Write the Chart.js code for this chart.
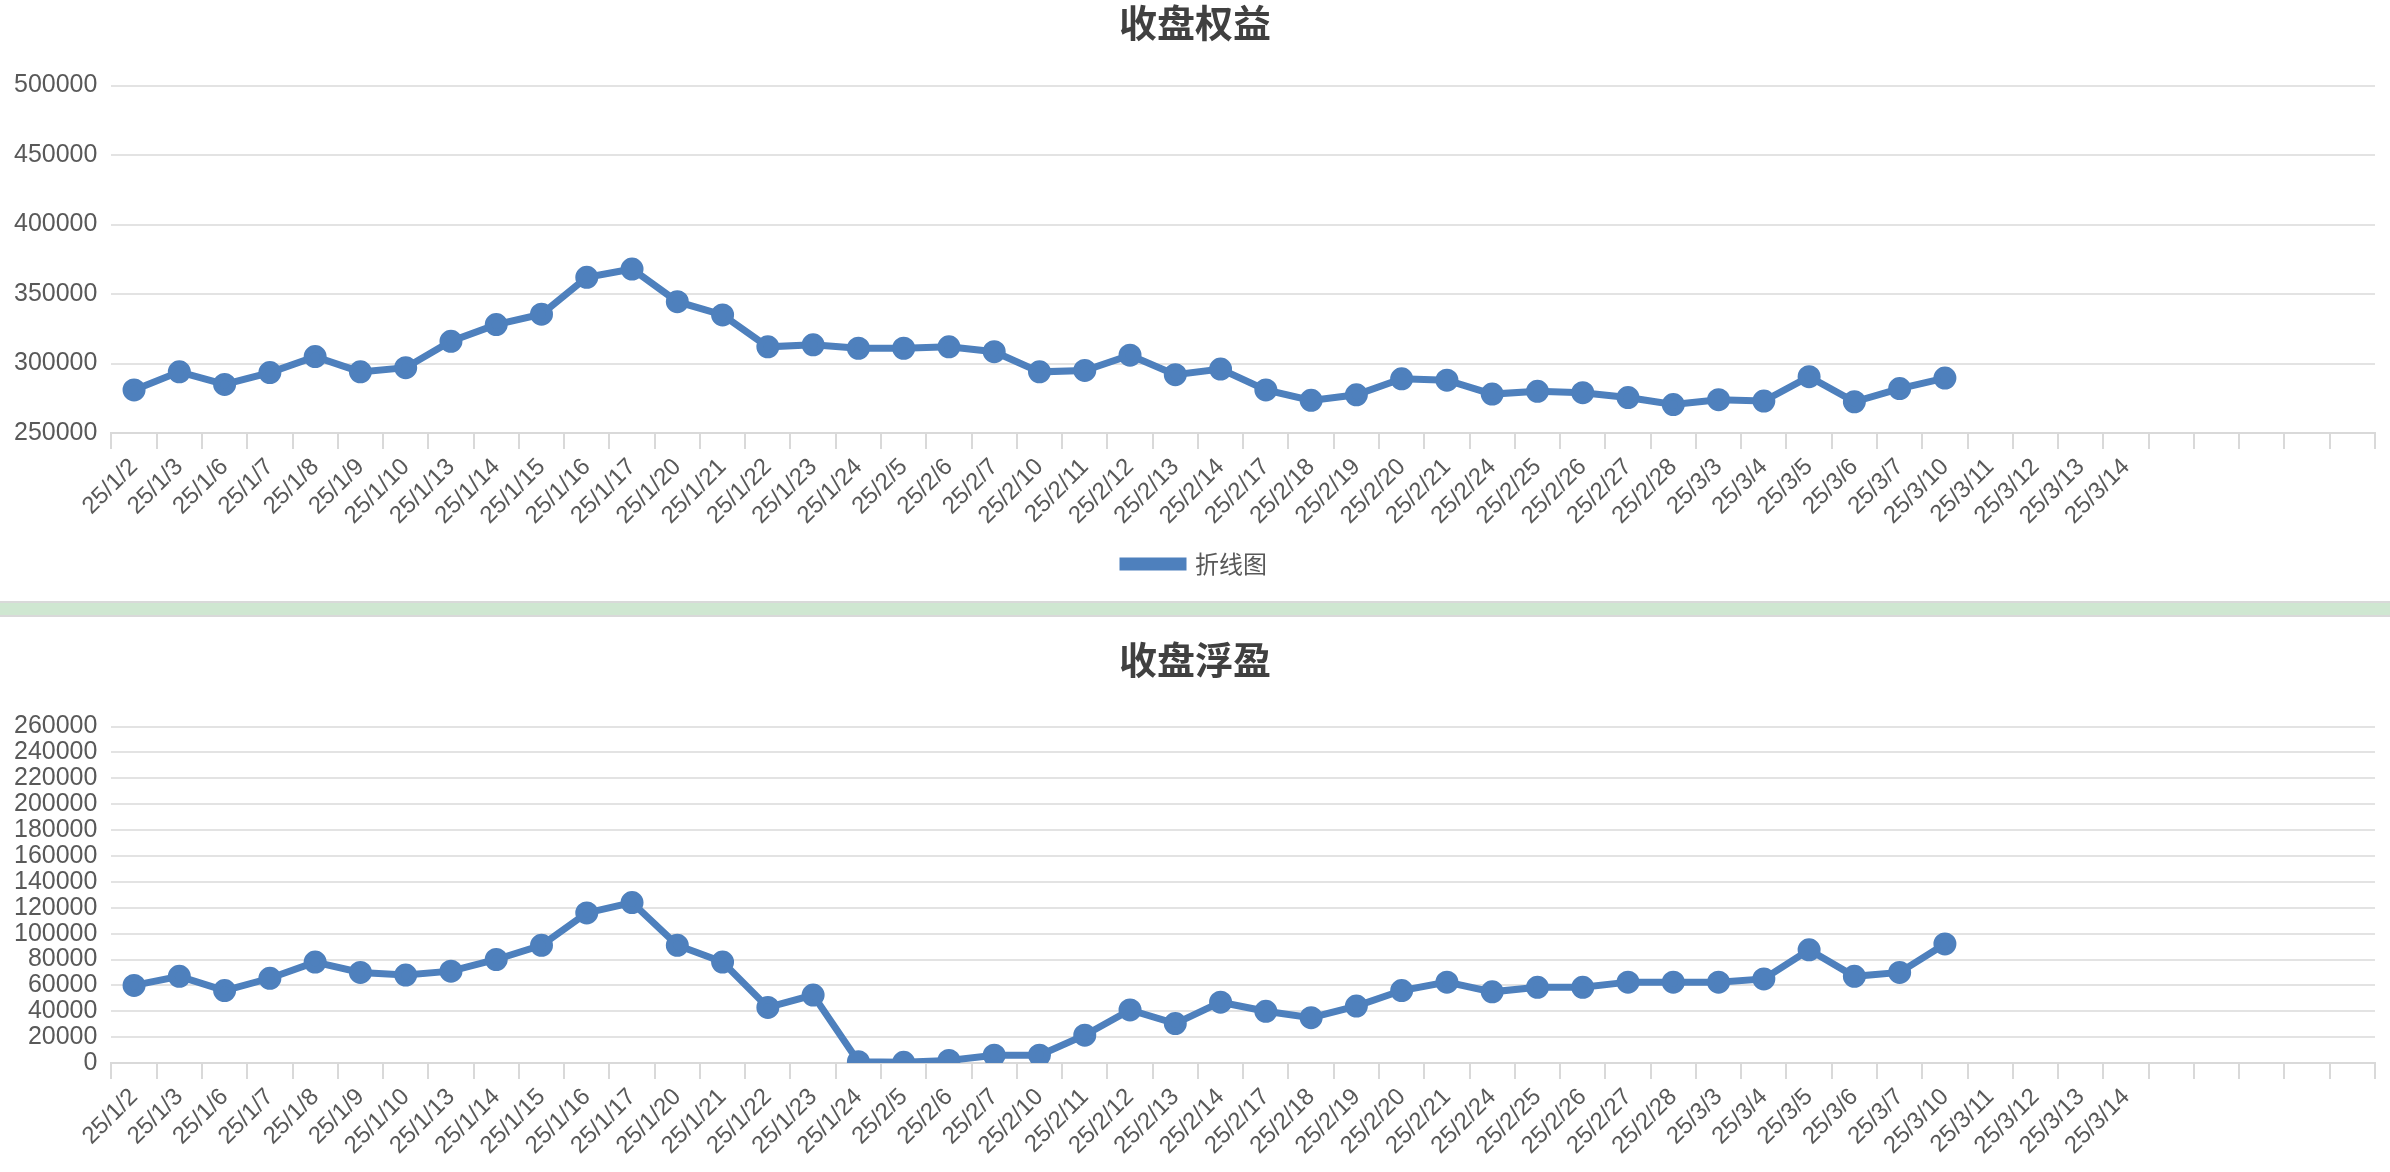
<!DOCTYPE html>
<html><head><meta charset="utf-8">
<script src="https://cdn.jsdelivr.net/npm/chart.js@4/dist/chart.umd.min.js"></script>
<style>
html,body{margin:0;padding:0;background:#fff;width:2390px;height:1172px;overflow:hidden}
#c1w{position:absolute;left:0;top:0;width:2390px;height:600px}
#band{position:absolute;left:0;top:601px;width:2390px;height:16px;background:#cfe7d1;border-top:2px solid #d9d9d9;border-bottom:2px solid #d9d9d9;box-sizing:border-box}
#c2w{position:absolute;left:0;top:617px;width:2390px;height:555px}
</style></head><body>
<div id="c1w"><canvas id="c1"></canvas></div>
<div id="band"></div>
<div id="c2w"><canvas id="c2"></canvas></div>
<script>
const categories=["25/1/2","25/1/3","25/1/6","25/1/7","25/1/8","25/1/9","25/1/10","25/1/13","25/1/14","25/1/15","25/1/16","25/1/17","25/1/20","25/1/21","25/1/22","25/1/23","25/1/24","25/2/5","25/2/6","25/2/7","25/2/10","25/2/11","25/2/12","25/2/13","25/2/14","25/2/17","25/2/18","25/2/19","25/2/20","25/2/21","25/2/24","25/2/25","25/2/26","25/2/27","25/2/28","25/3/3","25/3/4","25/3/5","25/3/6","25/3/7","25/3/10","25/3/11","25/3/12","25/3/13","25/3/14","","","","",""];
const equity=[281000,294000,285000,293500,305000,294000,297000,316000,328000,335500,362000,368000,344500,335000,312000,313500,311000,311000,312000,308500,294000,295000,306000,292000,296000,281000,273500,277500,289000,288000,278000,280000,279000,275500,270500,274000,273000,290500,272500,282000,289500];
const floating=[60000,67000,56000,65500,78000,70000,68000,71000,80000,91000,116000,124000,91000,78000,43000,52500,1000,500,2000,6000,6000,21500,41000,30500,47000,40000,35000,44000,56000,62500,55000,58500,58500,62500,62500,62500,65000,87500,67000,70000,92000];
const seriesName="折线图";
const titles=["收盘权益","收盘浮盈"];
const BLUE="#4e80bd", TXT="#595959", FONT="'Liberation Sans', Arial, 'Noto Sans CJK SC', sans-serif";
function make(id,data,title,min,max,step,legend,pad){
  new Chart(document.getElementById(id),{type:'line',
    data:{labels:categories,datasets:[{label:seriesName,data:data,borderColor:BLUE,backgroundColor:BLUE,borderWidth:7,pointRadius:8,pointHoverRadius:8,tension:0}]},
    options:{responsive:true,maintainAspectRatio:false,animation:false,
      layout:{padding:{top:pad.top,left:0,right:0,bottom:pad.bottom}},
      plugins:{title:{display:true,text:title,color:'#404040',font:{family:"'Noto Sans CJK SC', sans-serif",size:38,weight:'bold'},padding:{top:0,bottom:pad.titleBottom}},
        legend:{display:legend,position:'bottom',labels:{color:TXT,boxWidth:60,boxHeight:6,font:{family:"'Noto Sans CJK SC', sans-serif",size:24},padding:18}},
        tooltip:{enabled:false}},
      scales:{
        x:{offset:true,grid:{offset:true,drawOnChartArea:false,drawTicks:true,tickLength:16,color:'#d9d9d9',lineWidth:2},border:{color:'#d9d9d9',width:2},
           ticks:{color:TXT,font:{family:FONT,size:24},minRotation:45,maxRotation:45,autoSkip:false,padding:4}},
        y:{min:min,max:max,grid:{color:'#e3e3e3',lineWidth:2,drawTicks:false},border:{display:false},
           ticks:{stepSize:step,autoSkip:false,color:TXT,font:{family:FONT,size:25},padding:14,callback:v=>String(v)}}
      }}});
}
make('c1',equity,titles[0],250000,500000,50000,true,{top:0,bottom:14,titleBottom:40});
make('c2',floating,titles[1],0,260000,20000,false,{top:20,bottom:8,titleBottom:44});
</script></body></html>
